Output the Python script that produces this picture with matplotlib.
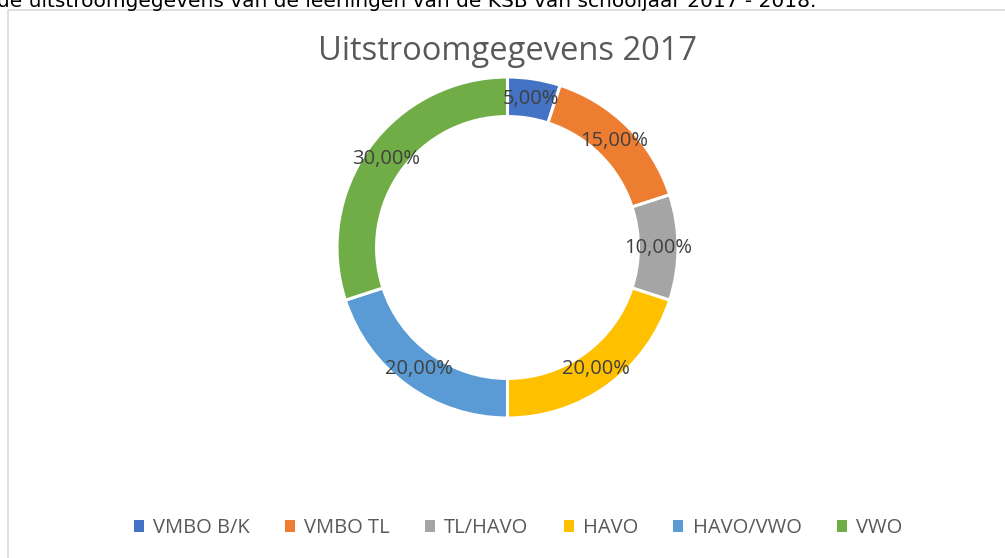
import matplotlib.pyplot as plt
from matplotlib.patches import Rectangle, Patch

# data
categories = ["VMBO B/K", "VMBO TL", "TL/HAVO", "HAVO", "HAVO/VWO", "VWO"]
shares = [5, 15, 10, 20, 20, 30]
colors = ["#4472C4", "#ED7D31", "#A5A5A5", "#FFC000", "#5B9BD5", "#70AD47"]
title = "Uitstroomgegevens 2017"
header = "de uitstroomgegevens van de leerlingen van de KSB van schooljaar 2017 - 2018."

plt.rcParams['font.family'] = ['Open Sans', 'DejaVu Sans']

W, H = 1005, 558
fig = plt.figure(figsize=(W / 100, H / 100), dpi=100)

# sentence above the chart, cut off by the top edge as in the screenshot
fig.text(-0.003, 1 - 7 / H, header, fontsize=14.5, family='DejaVu Sans',
         color='black', va='baseline', ha='left')

# chart frame (only top and left edges visible)
fig.patches.append(Rectangle((8 / W, -0.1), 1.2, (H - 10) / H + 0.1,
                             transform=fig.transFigure, fill=False,
                             edgecolor='#d9d9d9', linewidth=1.2))

cx, cy, R = 507.5, 247.5, 170.5
ax = fig.add_axes([(cx - R) / W, (H - cy - R) / H, 2 * R / W, 2 * R / H])
wedges, texts, autotexts = ax.pie(
    shares, colors=colors, startangle=90, counterclock=False, radius=1,
    wedgeprops=dict(width=0.232, edgecolor='white', linewidth=2.2),
    autopct=lambda p: f"{p:.2f}%".replace('.', ','), pctdistance=0.884,
    textprops=dict(color='#404040', fontsize=14.5))
ax.set_xlim(-1, 1)
ax.set_ylim(-1, 1)
ax.set_aspect('equal')
ax.axis('off')

fig.text(cx / W, 1 - 52 / H, title, fontsize=23.5, color='#595959',
         ha='center', va='center')

handles = [Patch(facecolor=c, edgecolor='none') for c in colors]
fig.legend(handles, categories, loc='center', bbox_to_anchor=(518 / W, 1 - 528 / H),
           ncol=6, frameon=False, fontsize=14.5, labelcolor='#595959',
           handlelength=0.5, handleheight=0.5, handletextpad=0.45,
           columnspacing=1.75)

fig.savefig('out.png', dpi=100)
